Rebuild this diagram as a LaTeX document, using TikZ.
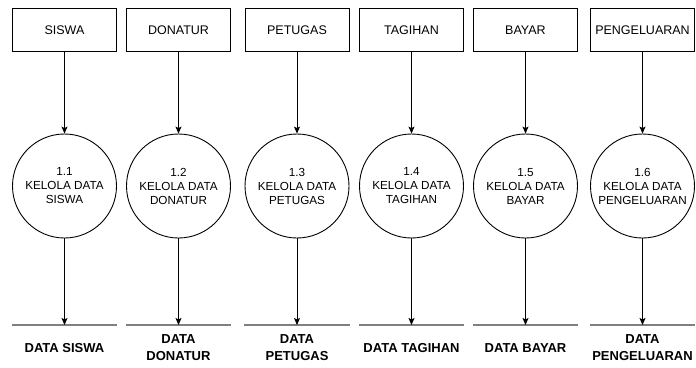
\documentclass[tikz,border=0pt]{standalone}
\usepackage{fontspec}
\setmainfont{Liberation Sans}
\usetikzlibrary{arrows.meta}
\begin{document}
\begin{tikzpicture}[x=1pt,y=-1pt,
  entity/.style={draw=black,line width=0.9pt,minimum width=104pt,minimum height=43pt,inner sep=0pt,font=\fontsize{12.5}{14}\selectfont},
  proc/.style={draw=black,line width=0.9pt,circle,minimum size=104pt,inner sep=0pt,align=center,font=\fontsize{11.7}{14}\selectfont},
  store/.style={minimum width=105pt,minimum height=45pt,inner sep=0pt,align=center,anchor=north,font=\bfseries\fontsize{13}{17}\selectfont},
  storeline/.style={draw=gray,line width=1.5pt},
  arr/.style={draw=black,line width=0.9pt,-{Stealth[length=7pt,width=6pt,inset=1.5pt]}}]
\useasboundingbox (0,0) rectangle (696,367);
\node[entity] (e1) at (64.5,30) {SISWA};
\node[entity] (e2) at (178.5,30) {DONATUR};
\node[entity] (e3) at (297,30) {PETUGAS};
\node[entity] (e4) at (411.5,30) {TAGIHAN};
\node[entity] (e5) at (525.5,30) {BAYAR};
\node[entity] (e6) at (642.5,30) {PENGELUARAN};
\node[proc] (p1) at (64.5,186) {1.1\\KELOLA DATA\\SISWA};
\node[proc] (p2) at (178.5,186) {1.2\\KELOLA DATA\\DONATUR};
\node[proc] (p3) at (297,186) {1.3\\KELOLA DATA\\PETUGAS};
\node[proc] (p4) at (411.5,186) {1.4\\KELOLA DATA\\TAGIHAN};
\node[proc] (p5) at (525.5,186) {1.5\\KELOLA DATA\\BAYAR};
\node[proc] (p6) at (642.5,186) {1.6\\KELOLA DATA\\PENGELUARAN};
\node[store] (d1) at (64.5,325) {DATA SISWA};
\node[store] (d2) at (178.5,325) {DATA\\DONATUR};
\node[store] (d3) at (297,325) {DATA\\PETUGAS};
\node[store] (d4) at (411.5,325) {DATA TAGIHAN};
\node[store] (d5) at (525.5,325) {DATA BAYAR};
\node[store] (d6) at (642.5,325) {DATA\\PENGELUARAN};
\foreach \i in {1,...,6}{
  \draw[storeline] (d\i.north west) -- (d\i.north east);
  \draw[arr] (e\i) -- (p\i);
  \draw[arr] (p\i) -- (d\i);
}
\end{tikzpicture}
\end{document}
